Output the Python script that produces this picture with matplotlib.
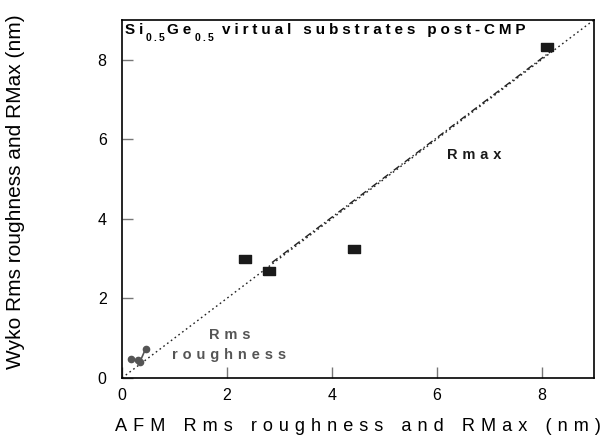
import matplotlib
matplotlib.use("Agg")
import matplotlib.pyplot as plt

# data
rmax_afm = [8.1, 2.34, 2.80, 4.42]
rmax_wyko = [8.33, 2.99, 2.69, 3.25]
rms_afm = [0.18, 0.30, 0.34, 0.45]
rms_wyko = [0.47, 0.44, 0.40, 0.73]
ideal_x = [0, 9]
ideal_y = [0, 9]
fit_x = [2.86, 8.17]
fit_y = [2.90, 8.20]
xticks = [0, 2, 4, 6, 8]
yticks = [0, 2, 4, 6, 8]

plt.rcParams['font.family'] = ['Liberation Sans', 'DejaVu Sans']

def sp(s, gap="\u2004", word="\u2003"):
    return word.join(gap.join(w) for w in s.split(" "))

fig = plt.figure(figsize=(6.13, 4.41), dpi=100)
ax = fig.add_axes([0.199, 0.143, 0.770, 0.812])

ax.plot(ideal_x, ideal_y, ls=(0, (1.2, 2.2)), color='#222222', lw=1.0, zorder=1)
ax.plot(fit_x, fit_y, ls=(0, (5, 2, 1, 2)), color='#222222', lw=1.0, zorder=1)

rect = [(-1.5, -1), (1.5, -1), (1.5, 1), (-1.5, 1), (-1.5, -1)]
ax.plot(rmax_afm, rmax_wyko, ls='none', marker=rect, markersize=8.5,
        color='#1a1a1a', mec='#1a1a1a', zorder=3)
ax.plot(rms_afm, rms_wyko, ls='-', lw=1.2, marker='o', markersize=4.5,
        color='#555555', zorder=3)

ax.set_xlim(0, 9)
ax.set_ylim(0, 9)
ax.set_xticks(xticks)
ax.set_yticks(yticks)
ax.tick_params(direction='in', length=8, width=1, color='#777777',
               labelsize=11.5, top=False, right=False)
ax.tick_params(axis='x', pad=7)
ax.tick_params(axis='y', pad=11)
for s in ax.spines.values():
    s.set_linewidth(1.2)
ax.set_xlabel(sp("AFM Rms roughness and RMax (nm)"), fontsize=13.1, labelpad=11)
ax.set_ylabel("Wyko Rms roughness and RMax (nm)", fontsize=15)
ax.yaxis.set_label_coords(-0.205, 0.52)

# title pieces
fs = 11
tg = "\u2005"
t = ax.text(0.006, 0.99, sp("Si", tg, "\u2003"), transform=ax.transAxes, fontsize=fs,
            fontweight='bold', va='top', ha='left')
parts = [(sp("0.5", "\u2009"), 7.5, -4), (sp("Ge", tg), fs, 0), (sp("0.5", "\u2009"), 7.5, -4),
         (sp("virtual substrates post-CMP", tg, "\u2002 "), fs, 0)]
prev = t
base_off = 0
for i, (s, size, dy) in enumerate(parts):
    dx = 6 if i == 3 else 2
    a = ax.annotate(s, xy=(1, 0), xycoords=prev, xytext=(dx, dy - base_off),
                    textcoords='offset points', fontsize=size, fontweight='bold',
                    va='bottom', ha='left')
    base_off = dy
    prev = a

ax.text(6.2, 5.6, sp("Rmax"), fontsize=10.5, fontweight='bold', color='#1a1a1a',
        ha='left', va='center')
ax.text(2.05, 1.08, sp("Rms"), fontsize=10.5, fontweight='bold', color='#555555',
        ha='center', va='center')
ax.text(2.05, 0.58, sp("roughness"), fontsize=10.5, fontweight='bold', color='#555555',
        ha='center', va='center')

fig.savefig("out.png", dpi=100)
